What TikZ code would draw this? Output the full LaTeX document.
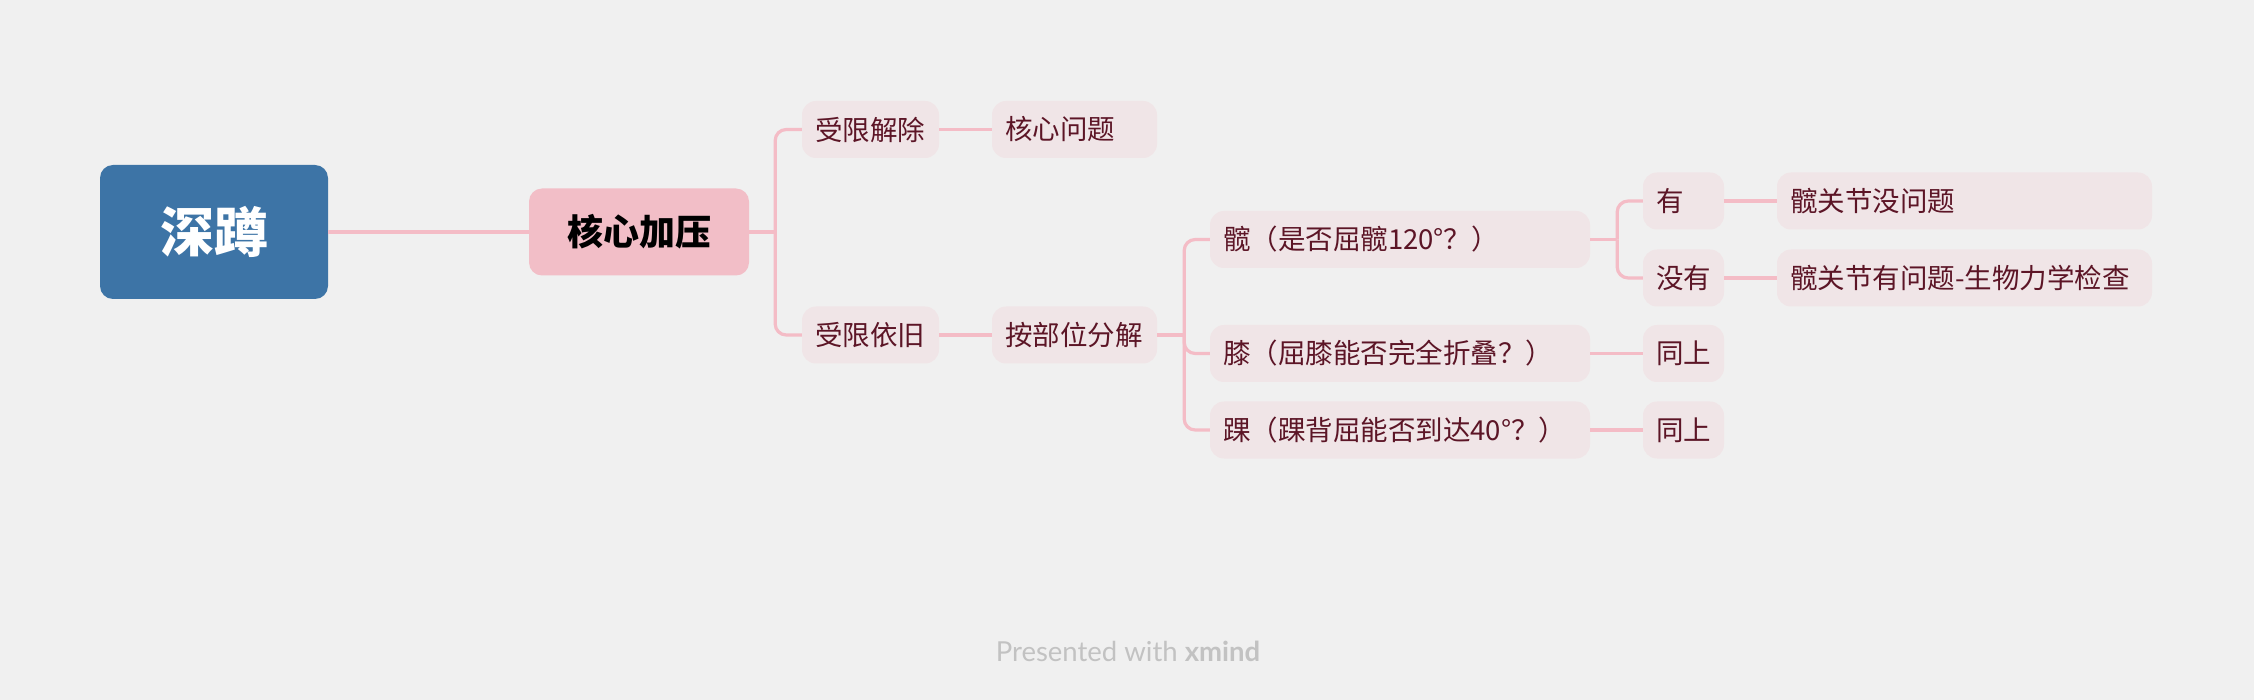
\documentclass[tikz,border=0pt]{standalone}
\usepackage{fontspec}
\setmainfont{Noto Sans CJK SC}
\newfontfamily\footfont{Lato}
\definecolor{bg}{HTML}{F0F0F0}
\definecolor{rootblue}{HTML}{3D74A6}
\definecolor{mainpink}{HTML}{F2BEC7}
\definecolor{subfill}{HTML}{F0E5E7}
\definecolor{subtext}{HTML}{5C1526}
\definecolor{linepink}{HTML}{F4BCC6}
\definecolor{footgray}{HTML}{C2C2C2}
\tikzset{
  rootbox/.style={fill=rootblue, rounded corners=13pt, minimum width=228pt, minimum height=134pt,
    inner sep=0pt, text=white, font=\fontsize{54}{60}\selectfont\bfseries},
  mainbox/.style={fill=mainpink, rounded corners=13pt, minimum width=220pt, minimum height=87pt,
    inner sep=0pt, text=black, font=\fontsize{36}{42}\selectfont\bfseries},
  subbox/.style={fill=subfill, rounded corners=14pt, minimum height=57pt, inner xsep=13pt, inner ysep=0pt,
    text=subtext, font=\fontsize{27.5}{32}\selectfont, align=left, text width=#1-26pt},
  conn/.style={draw=linepink, line width=3.2pt, rounded corners=11pt, line cap=butt}
}
\begin{document}
\begin{tikzpicture}[x=1pt,y=-1pt]
\fill[bg] (0,0) rectangle (2254,700);
\useasboundingbox (0,0) rectangle (2254,700);

\node[rootbox] (root) at (214,232) {深蹲};
\node[mainbox] (hx) at (639,232) {核心加压};

\node[subbox=137pt] (a1) at (870.5,129.5) {受限解除};
\node[subbox=165pt] (a2) at (1074.5,129.5) {核心问题};
\node[subbox=137pt] (b1) at (870.5,335) {受限依旧};
\node[subbox=165pt] (b2) at (1074.5,335) {按部位分解};

\node[subbox=380pt] (c1) at (1400,239.5) {髋（是否屈髋120°？）};
\node[subbox=380pt] (c2) at (1400,353.5) {膝（屈膝能否完全折叠？）};
\node[subbox=380pt] (c3) at (1400,430) {踝（踝背屈能否到达40°？）};

\node[subbox=81pt] (d1) at (1683.5,201) {有};
\node[subbox=81pt] (d2) at (1683.5,278) {没有};
\node[subbox=81pt] (d3) at (1683.5,353.5) {同上};
\node[subbox=81pt] (d4) at (1683.5,430) {同上};

\node[subbox=375pt] (e1) at (1964.5,201) {髋关节没问题};
\node[subbox=375pt] (e2) at (1964.5,278) {髋关节有问题-生物力学检查};

\draw[conn] (root.east) -- (hx.west);
\draw[conn] (hx.east) -- ++(26,0) coordinate (j1);
\draw[conn] (j1) |- (a1.west);
\draw[conn] (j1) |- (b1.west);
\draw[conn] (a1.east) -- (a2.west);
\draw[conn] (b1.east) -- (b2.west);
\draw[conn] (b2.east) -- ++(27,0) coordinate (j2);
\draw[conn] (j2) |- (c1.west);
\draw[conn] (j2) |- (c2.west);
\draw[conn] (j2) |- (c3.west);
\draw[conn] (c1.east) -- ++(27,0) coordinate (j3);
\draw[conn] (j3) |- (d1.west);
\draw[conn] (j3) |- (d2.west);
\draw[conn] (c2.east) -- (d3.west);
\draw[conn] (c3.east) -- (d4.west);
\draw[conn] (d1.east) -- (e1.west);
\draw[conn] (d2.east) -- (e2.west);

\node[text=footgray, font=\footfont\fontsize{27.5}{32}\selectfont, inner sep=0pt] (foot) at (1128,651)
  {Presented with \textbf{xmind}};
\end{tikzpicture}
\end{document}
